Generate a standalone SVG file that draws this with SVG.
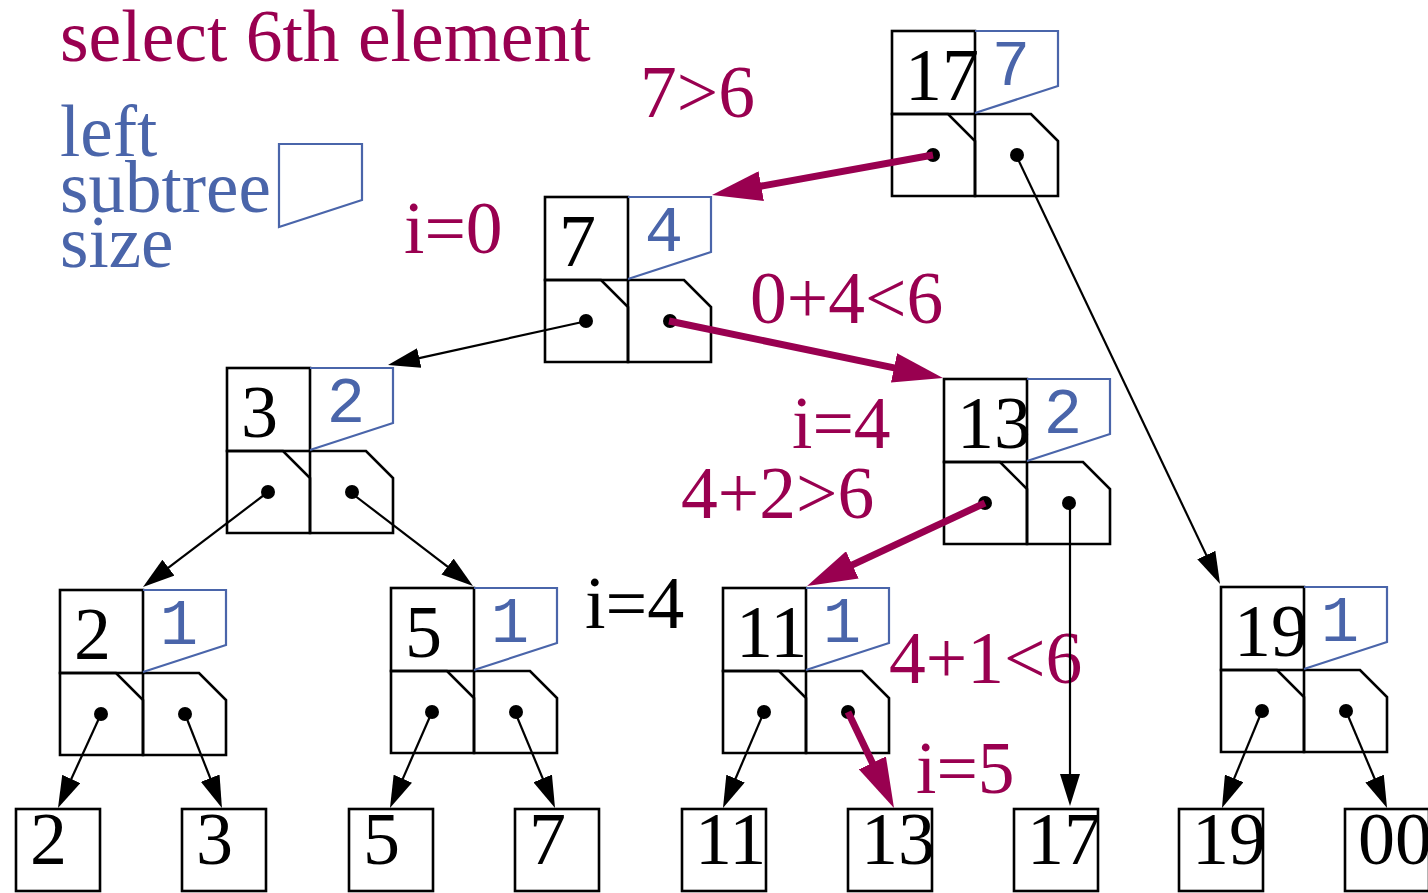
<svg xmlns="http://www.w3.org/2000/svg" xmlns:xlink="http://www.w3.org/1999/xlink" width="1428" height="893" viewBox="0 0 1428 893">
<style>
.k{font-family:"Liberation Serif","Times New Roman",serif;font-size:74px;fill:#000}
.sz{font-family:"Liberation Mono","Courier New",monospace;font-size:64px;fill:#4a65aa;text-anchor:middle}
.m{font-family:"Liberation Serif","Times New Roman",serif;font-size:73.5px;fill:#990050}
.b{font-family:"Liberation Serif","Times New Roman",serif;font-size:73px;fill:#4a65aa}
.cell{fill:none;stroke:#000;stroke-width:2.6;stroke-linejoin:miter}
.blue{fill:none;stroke:#4a65aa;stroke-width:2.2}
.leaf{fill:#fff;stroke:#000;stroke-width:2.6}
.thin{stroke:#000;stroke-width:2.2;fill:none;marker-end:url(#ah)}
.thick{stroke:#990050;stroke-width:7;fill:none;marker-end:url(#ahm)}
</style>
<defs>
<marker id="ah" markerUnits="userSpaceOnUse" markerWidth="32" markerHeight="20" viewBox="0 0 32 20" refX="7" refY="10" orient="auto"><path d="M0,0 L32,10 L0,20 Z" fill="#000"/></marker>
<marker id="ahm" markerUnits="userSpaceOnUse" markerWidth="50" markerHeight="30" viewBox="0 0 50 30" refX="10" refY="15" orient="auto"><path d="M0,0 L50,15 L0,30 Z" fill="#990050"/></marker>
<g id="shape">
<rect class="cell" x="0" y="0" width="83" height="83"/>
<path class="cell" d="M0,83 H56 L83,110 V165 H0 Z"/>
<path class="cell" d="M83,83 H139 L166,110 V165 H83 Z"/>
<path class="blue" d="M83,0 H166 V55 L83,82"/>
<circle cx="41" cy="124" r="7" fill="#000"/>
<circle cx="125" cy="124" r="7" fill="#000"/>
</g>
</defs>
<rect width="1428" height="893" fill="#fff"/>
<g id="legend">
<text class="m" x="60" y="61">select 6th element</text>
<text class="b" x="60" y="156">left</text>
<text class="b" x="60" y="212">subtree</text>
<text class="b" x="60" y="267">size</text>
<path class="blue" d="M279,144 L362,144 L362,200 L279,227 Z"/>
</g>
<g id="n17" transform="translate(892,31)"><use xlink:href="#shape"/><text class="k" x="13" y="69">17</text><text class="sz" x="119" y="54">7</text></g>
<g id="n7" transform="translate(545,197)"><use xlink:href="#shape"/><text class="k" x="14" y="69">7</text><text class="sz" x="119" y="54">4</text></g>
<g id="n3" transform="translate(227,368)"><use xlink:href="#shape"/><text class="k" x="14" y="69">3</text><text class="sz" x="119" y="54">2</text></g>
<g id="n13" transform="translate(944,379)"><use xlink:href="#shape"/><text class="k" x="13" y="69">13</text><text class="sz" x="119" y="54">2</text></g>
<g id="n2" transform="translate(60,590)"><use xlink:href="#shape"/><text class="k" x="14" y="69">2</text><text class="sz" x="119" y="54">1</text></g>
<g id="n5" transform="translate(391,588)"><use xlink:href="#shape"/><text class="k" x="14" y="69">5</text><text class="sz" x="119" y="54">1</text></g>
<g id="n11" transform="translate(723,588)"><use xlink:href="#shape"/><text class="k" x="13" y="69">11</text><text class="sz" x="119" y="54">1</text></g>
<g id="n19" transform="translate(1221,587)"><use xlink:href="#shape"/><text class="k" x="13" y="69">19</text><text class="sz" x="119" y="54">1</text></g>
<g id="leaf2"><rect class="leaf" x="16" y="809" width="84" height="82"/><text class="k" x="30" y="864">2</text></g>
<g id="leaf3"><rect class="leaf" x="182" y="809" width="84" height="82"/><text class="k" x="196" y="864">3</text></g>
<g id="leaf5"><rect class="leaf" x="349" y="809" width="84" height="82"/><text class="k" x="363" y="864">5</text></g>
<g id="leaf7"><rect class="leaf" x="515" y="809" width="84" height="82"/><text class="k" x="529" y="864">7</text></g>
<g id="leaf11"><rect class="leaf" x="682" y="809" width="84" height="82"/><text class="k" x="695" y="864">11</text></g>
<g id="leaf13"><rect class="leaf" x="848" y="809" width="84" height="82"/><text class="k" x="861" y="864">13</text></g>
<g id="leaf17"><rect class="leaf" x="1014" y="809" width="84" height="82"/><text class="k" x="1027" y="864">17</text></g>
<g id="leaf19"><rect class="leaf" x="1179" y="809" width="84" height="82"/><text class="k" x="1192" y="864">19</text></g>
<g id="leaf00"><rect class="leaf" x="1345" y="809" width="84" height="82"/><text class="k" x="1358" y="864">00</text></g>
<g id="labels">
<text class="m" x="640" y="117">7&gt;6</text>
<text class="m" x="404" y="253">i=0</text>
<text class="m" x="750" y="323">0+4&lt;6</text>
<text class="m" x="792" y="448">i=4</text>
<text class="m" x="681" y="518">4+2&gt;6</text>
<text class="m" x="889" y="683">4+1&lt;6</text>
<text class="m" x="916" y="793">i=5</text>
<text class="k" x="585" y="628">i=4</text>
</g>
<g id="connectors">
<path class="thin" d="M587,321 L412.4,359.6"/>
<path class="thin" d="M1016,155 L1209.3,561.4"/>
<path class="thin" d="M268,492 L162.9,571.9"/>
<path class="thin" d="M350,492 L453.1,570.8"/>
<path class="thin" d="M1070,503 L1070,781"/>
<path class="thin" d="M101,714 L68.4,785.3"/>
<path class="thin" d="M185,714 L212.8,784.7"/>
<path class="thin" d="M432,712 L400,785.1"/>
<path class="thin" d="M515,712 L545.4,784.9"/>
<path class="thin" d="M764,712 L732.8,785"/>
<path class="thin" d="M1262,711 L1231.5,784.9"/>
<path class="thin" d="M1346,711 L1377.3,785"/>
<path class="thick" d="M933,155 L751.4,187.9"/>
<path class="thick" d="M669,321 L903.8,369.9"/>
<path class="thick" d="M985,503 L843.3,569.1"/>
<path class="thick" d="M848,712 L876.7,771.9"/>
</g>
</svg>
